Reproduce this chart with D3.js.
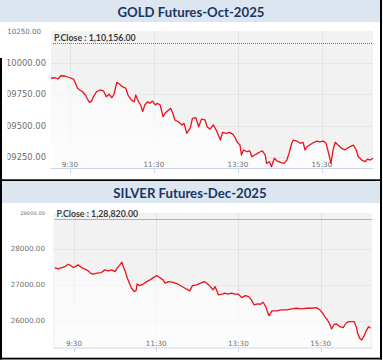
<!DOCTYPE html>
<html>
<head>
<meta charset="utf-8">
<script src="https://cdn.jsdelivr.net/npm/d3@7"></script>
<style>
  html, body { margin: 0; padding: 0; background: #fff; }
  svg { display: block; }
</style>
</head>
<body>
<div id="chart"></div>
<script>
// ---- data ----
const goldTitle = "GOLD Futures-Oct-2025";
const goldPrevClose = 110156;
const goldTimes = [
  "9:03", "9:09", "9:13", "9:17", "9:23", "9:30", "9:35", "9:37", "9:41", "9:44",
  "9:48", "9:52", "9:55", "9:58", "10:01", "10:03", "10:08", "10:13", "10:18", "10:22",
  "10:26", "10:30", "10:33", "10:37", "10:41", "10:45", "10:50", "10:53", "10:58", "11:02",
  "11:04", "11:08", "11:11", "11:14", "11:17", "11:21", "11:24", "11:28", "11:32", "11:35",
  "11:39", "11:43", "11:46", "11:51", "11:54", "11:57", "12:00", "12:05", "12:10", "12:13",
  "12:17", "12:22", "12:25", "12:30", "12:34", "12:38", "12:43", "12:46", "12:50", "12:55",
  "12:59", "13:02", "13:05", "13:08", "13:13", "13:18", "13:23", "13:26", "13:29", "13:33",
  "13:35", "13:38", "13:43", "13:47", "13:50", "13:54", "13:58", "14:02", "14:05", "14:09",
  "14:11", "14:15", "14:18", "14:22", "14:26", "14:31", "14:36", "14:40", "14:43", "14:47",
  "14:49", "14:54", "14:59", "15:03", "15:06", "15:09", "15:14", "15:19", "15:23", "15:27",
  "15:32", "15:36", "15:39", "15:43", "15:46", "15:49", "15:53", "15:58", "16:03", "16:06",
  "16:10", "16:15", "16:19", "16:22", "16:27", "16:32", "16:35", "16:39", "16:43"
];
const goldPrices = [
  109875, 109879, 109869, 109895, 109893, 109879, 109869, 109848, 109795, 109782,
  109768, 109742, 109710, 109684, 109694, 109721, 109768, 109782, 109774, 109729,
  109748, 109721, 109748, 109843, 109827, 109808, 109795, 109742, 109702, 109689,
  109742, 109689, 109663, 109610, 109663, 109689, 109676, 109694, 109663, 109676,
  109663, 109570, 109597, 109623, 109636, 109597, 109544, 109530, 109504, 109517,
  109438, 109482, 109557, 109562, 109490, 109551, 109544, 109490, 109472, 109504,
  109464, 109425, 109385, 109446, 109438, 109446, 109430, 109403, 109367, 109345,
  109266, 109306, 109292, 109298, 109252, 109266, 109279, 109292, 109298, 109266,
  109200, 109213, 109173, 109240, 109218, 109208, 109200, 109226, 109279, 109359,
  109385, 109377, 109359, 109367, 109306, 109332, 109351, 109367, 109377, 109371,
  109377, 109359, 109292, 109200, 109306, 109367, 109345, 109319, 109306, 109319,
  109332, 109345, 109306, 109252, 109226, 109213, 109234, 109226, 109240
];
const goldTicks = [110250, 110000, 109750, 109500, 109250];
const goldTickLabels = ["10250.00", "10000.00", "09750.00", "09500.00", "09250.00"];

const silverTitle = "SILVER Futures-Dec-2025";
const silverPrevClose = 128820;
const silverTimes = [
  "9:02", "9:07", "9:12", "9:17", "9:22", "9:27", "9:30", "9:36", "9:41", "9:46",
  "9:51", "9:54", "9:58", "10:04", "10:10", "10:15", "10:20", "10:25", "10:30", "10:33",
  "10:37", "10:40", "10:42", "10:45", "10:48", "10:51", "10:54", "10:58", "11:01", "11:02",
  "11:06", "11:11", "11:16", "11:21", "11:26", "11:31", "11:35", "11:40", "11:43", "11:48",
  "11:53", "11:58", "12:02", "12:12", "12:19", "12:23", "12:29", "12:35", "12:40", "12:44",
  "12:49", "12:53", "12:56", "13:01", "13:06", "13:10", "13:15", "13:20", "13:25", "13:30",
  "13:35", "13:40", "13:45", "13:49", "13:53", "13:58", "14:02", "14:06", "14:10", "14:14",
  "14:15", "14:19", "14:26", "14:33", "14:41", "14:48", "14:55", "15:02", "15:10", "15:17",
  "15:24", "15:29", "15:33", "15:36", "15:40", "15:44", "15:46", "15:50", "15:54", "15:58",
  "16:03", "16:07", "16:11", "16:15", "16:19", "16:22", "16:24", "16:27", "16:30", "16:33",
  "16:36", "16:40", "16:43"
];
const silverPrices = [
  127480, 127443, 127480, 127508, 127575, 127508, 127480, 127555, 127480, 127435,
  127388, 127324, 127296, 127324, 127340, 127416, 127388, 127416, 127368, 127463,
  127555, 127630, 127508, 127368, 127184, 127045, 126905, 126810, 126858, 127017,
  126978, 127017, 127089, 127137, 127201, 127257, 127201, 127137, 127045, 127089,
  127073, 127045, 127017, 126905, 126830, 126978, 126997, 127045, 127089, 127045,
  126950, 126858, 126950, 126718, 126738, 126766, 126738, 126766, 126738, 126738,
  126643, 126699, 126671, 126579, 126439, 126467, 126459, 126515, 126392, 126160,
  126141, 126272, 126272, 126300, 126300, 126328, 126347, 126328, 126347, 126347,
  126364, 126300, 126208, 126113, 126021, 125881, 125770, 125901, 125901, 125834,
  125806, 125929, 125973, 125973, 125973, 125834, 125650, 125510, 125463, 125555,
  125695, 125834, 125789
];
const silverTicks = [129000, 128000, 127000, 126000];
const silverTickLabels = ["29000.00", "28000.00", "27000.00", "26000.00"];

const timeTicks = ["9:30", "11:30", "13:30", "15:30"];

// ---- drawing ----
const width = 383;
const height = 362;
const parseTime = d3.timeParse("%H:%M");

function indianFormat(v) {
    const s = Math.round(v).toString();
    const last3 = s.slice(-3);
    const rest = s.slice(0, -3).replace(/\B(?=(\d{2})+(?!\d))/g, ",");
    return (rest ? rest + "," : "") + last3 + ".00";
}

const svg = d3.select("#chart")
    .append("svg")
    .attr("width", width)
    .attr("height", height);

const defs = svg.append("defs");

const areaGrad = defs.append("linearGradient")
    .attr("id", "areaGrad")
    .attr("x1", 0).attr("y1", 0)
    .attr("x2", 0).attr("y2", 1);
areaGrad.append("stop").attr("offset", "0%").attr("stop-color", "#fff").attr("stop-opacity", 0.45);
areaGrad.append("stop").attr("offset", "100%").attr("stop-color", "#fff").attr("stop-opacity", 0.85);

class FuturesPanel {
    constructor(svg, opts) {
        this.svg = svg;
        this.opts = opts;
        this.g = svg.append("g");

        const p = opts.plot;
        this.x = d3.scaleTime()
            .domain(opts.xDomain.map(parseTime))
            .range([p.left, p.right]);
        this.y = d3.scaleLinear()
            .domain(opts.yDomain)
            .range([p.bottom, p.top]);

        this.data = opts.times.map((t, i) => ({ t: parseTime(t), v: opts.prices[i] }));
    }

    drawHeader() {
        const o = this.opts;
        this.g.append("rect")
            .attr("x", o.band[0])
            .attr("y", o.bandTop)
            .attr("width", o.band[1] - o.band[0])
            .attr("height", o.bandHeight)
            .attr("fill", "#dce6f1");

        this.g.append("text")
            .attr("x", o.titleX)
            .attr("y", o.titleBaseline)
            .attr("text-anchor", "middle")
            .style("font-family", "Lato, 'Open Sans', sans-serif")
            .style("font-weight", "bold")
            .style("font-size", "13.2px")
            .attr("fill", "#1b3563")
            .text(o.title);
    }

    drawPlot() {
        const o = this.opts;
        const p = o.plot;

        this.g.append("rect")
            .attr("x", p.left)
            .attr("y", p.top)
            .attr("width", p.right - p.left)
            .attr("height", p.bottom - p.top)
            .attr("fill", "#f2f2f2");

        // horizontal grid
        this.g.selectAll(".hgrid")
            .data(o.ticks.slice(1))
            .enter()
            .append("line")
            .attr("x1", p.left)
            .attr("x2", p.right)
            .attr("y1", d => Math.round(this.y(d)) + 0.5)
            .attr("y2", d => Math.round(this.y(d)) + 0.5)
            .attr("stroke", "#e6e6e6");

        // vertical grid + tick marks
        const tt = timeTicks.map(parseTime);
        this.g.selectAll(".vgrid")
            .data(tt)
            .enter()
            .append("line")
            .attr("x1", d => Math.round(this.x(d)) + 0.5)
            .attr("x2", d => Math.round(this.x(d)) + 0.5)
            .attr("y1", p.top)
            .attr("y2", p.bottom)
            .attr("stroke", "#e3e3e3");

        this.g.selectAll(".tick")
            .data(tt)
            .enter()
            .append("line")
            .attr("x1", d => Math.round(this.x(d)) + 0.5)
            .attr("x2", d => Math.round(this.x(d)) + 0.5)
            .attr("y1", p.bottom)
            .attr("y2", p.bottom + 5)
            .attr("stroke", "#ccd6eb");

        // area under the line, lighter than the background
        const area = d3.area()
            .x(d => this.x(d.t))
            .y0(p.bottom)
            .y1(d => this.y(d.v));
        this.g.append("path")
            .datum(this.data)
            .attr("d", area)
            .attr("fill", "url(#areaGrad)");

        // axis line
        this.g.append("line")
            .attr("x1", p.left)
            .attr("x2", p.right)
            .attr("y1", p.bottom + 0.5)
            .attr("y2", p.bottom + 0.5)
            .attr("stroke", "#ccd6eb");

        // y labels
        const clipId = "clip_" + o.id;
        defs.append("clipPath")
            .attr("id", clipId)
            .append("rect")
            .attr("x", o.labelClip)
            .attr("y", p.top - 20)
            .attr("width", 60)
            .attr("height", p.bottom - p.top + 40);

        this.g.append("g")
            .attr("clip-path", `url(#${clipId})`)
            .selectAll("text")
            .data(o.ticks)
            .enter()
            .append("text")
            .attr("x", (d, i) => i === 0 ? o.topLabelRight : o.labelRight)
            .attr("y", d => this.y(d))
            .attr("dy", "0.36em")
            .attr("text-anchor", "end")
            .style("font-family", "'DejaVu Sans', sans-serif")
            .style("font-size", (d, i) => (i === 0 ? o.topLabelSize : o.labelSize) + "px")
            .attr("fill", "#6e6e6e")
            .text((d, i) => o.tickLabels[i]);

        // x labels sit inside the plot, just above the axis
        this.g.selectAll(".xlabel")
            .data(timeTicks)
            .enter()
            .append("text")
            .attr("x", d => this.x(parseTime(d)))
            .attr("y", p.bottom - 1.5)
            .attr("text-anchor", "middle")
            .style("font-family", "'DejaVu Sans', sans-serif")
            .style("font-size", "7.2px")
            .attr("fill", "#6e6e6e")
            .text(d => d);

        // previous close
        const yc = Math.round(this.y(o.prevClose)) + 0.5;
        this.g.append("line")
            .attr("x1", p.left + 2)
            .attr("x2", p.right)
            .attr("y1", yc)
            .attr("y2", yc)
            .attr("stroke", "#707070")
            .attr("stroke-dasharray", "1,1");

        this.g.append("text")
            .attr("x", p.left + 3)
            .attr("y", yc - 2.5)
            .style("font-family", "Lato, sans-serif")
            .style("font-weight", "bold")
            .style("font-size", "8.8px")
            .attr("fill", "#3a3a3a")
            .text("P.Close : " + indianFormat(o.prevClose));

        // price line
        const line = d3.line()
            .x(d => this.x(d.t))
            .y(d => this.y(d.v));
        this.g.append("path")
            .datum(this.data)
            .attr("d", line)
            .attr("fill", "none")
            .attr("stroke", "#e8141c")
            .attr("stroke-width", 1.3)
            .attr("stroke-linejoin", "round");
    }

    render() {
        this.drawHeader();
        this.drawPlot();
    }
}

const gold = new FuturesPanel(svg, {
    id: "gold",
    title: goldTitle,
    times: goldTimes,
    prices: goldPrices,
    ticks: goldTicks,
    tickLabels: goldTickLabels,
    prevClose: goldPrevClose,
    band: [0, 380],
    bandTop: 0,
    bandHeight: 22,
    titleX: 191,
    titleBaseline: 16.5,
    plot: { left: 51, right: 373, top: 31, bottom: 168 },
    xDomain: ["9:03", "16:43"],
    yDomain: [109163, 110250],
    labelRight: 46,
    labelSize: 8.4,
    topLabelRight: 41,
    topLabelSize: 7.1,
    labelClip: 7.5
});

const silver = new FuturesPanel(svg, {
    id: "silver",
    title: silverTitle,
    times: silverTimes,
    prices: silverPrices,
    ticks: silverTicks,
    tickLabels: silverTickLabels,
    prevClose: silverPrevClose,
    band: [2, 380],
    bandTop: 181,
    bandHeight: 22,
    titleX: 190,
    titleBaseline: 197.5,
    plot: { left: 53.4, right: 372, top: 213, bottom: 347.5 },
    xDomain: ["9:00", "16:45"],
    yDomain: [125254, 129000],
    labelRight: 45,
    labelSize: 7.2,
    topLabelRight: 45,
    topLabelSize: 5.2,
    labelClip: 2
});

gold.render();
silver.render();

// black frame pieces from the screenshot
const frame = svg.append("g").attr("fill", "#000");
frame.append("rect").attr("x", 380).attr("y", 0).attr("width", 2).attr("height", 359.5);
frame.append("rect").attr("x", 0).attr("y", 58).attr("width", 2).attr("height", 301.5);
frame.append("rect").attr("x", 0).attr("y", 179.3).attr("width", 382).attr("height", 1.7);
frame.append("rect").attr("x", 0).attr("y", 357.7).attr("width", 382).attr("height", 1.8);
</script>
</body>
</html>
